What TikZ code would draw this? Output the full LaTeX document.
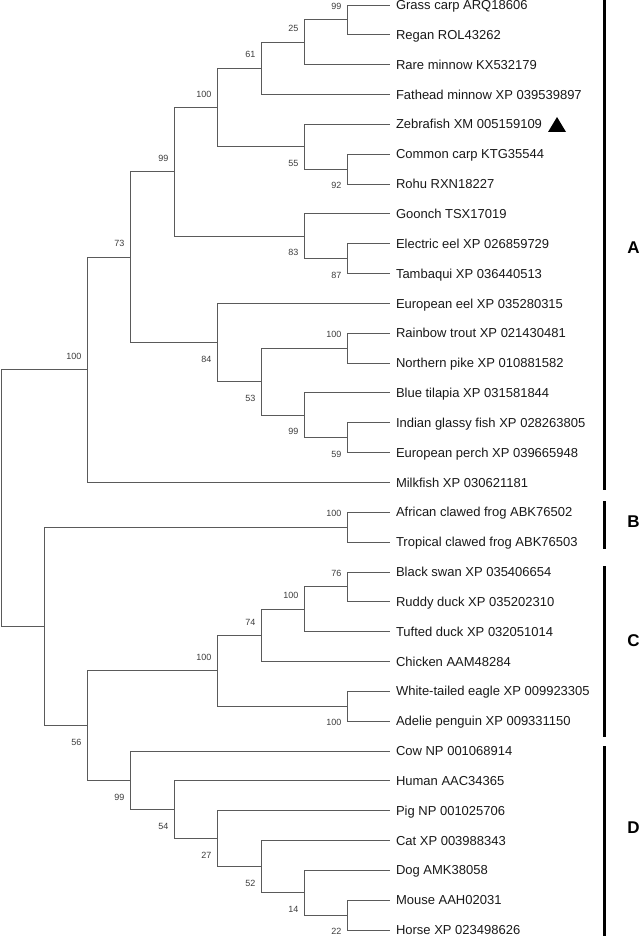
\documentclass[tikz,border=0pt]{standalone}
\usepackage{fontspec}
\setmainfont{Liberation Sans}
\usepackage{tikz}
\definecolor{BranchGrau}{RGB}{90,90,90}
\definecolor{LabelGrau}{RGB}{60,60,60}

\begin{document}
\begin{tikzpicture}[x=1pt, y=-1pt,
    branch/.style={draw=BranchGrau, line width=0.9pt},
    leaf/.style={anchor=west, inner xsep=6pt, inner ysep=1pt, outer sep=0pt, text height=9.2pt, text depth=0pt, font=\fontsize{13}{15}\selectfont, text=black!90},
    bootlabel/.style={anchor=east, inner sep=1pt, xshift=-4.5pt, font=\fontsize{9}{10}\selectfont, text=LabelGrau},
    bootup/.style={bootlabel, yshift=13.5pt},
    bootdown/.style={bootlabel, yshift=-16.5pt},
    cladebar/.style={draw=black, line width=3pt},
    cladename/.style={font=\fontsize{17}{20}\selectfont\bfseries}]
    \useasboundingbox (0,0) rectangle (641,936);

    % leaves
    \foreach \n/\t [count=\i from 0] in {grass/Grass carp ARQ18606, regan/Regan ROL43262,
        rare/Rare minnow KX532179, fathead/Fathead minnow XP 039539897,
        zebra/Zebrafish XM 005159109, common/Common carp KTG35544, rohu/Rohu RXN18227,
        goonch/Goonch TSX17019, eel/Electric eel XP 026859729, tamb/Tambaqui XP 036440513,
        eureel/European eel XP 035280315, trout/Rainbow trout XP 021430481,
        pike/Northern pike XP 010881582, tilapia/Blue tilapia XP 031581844,
        glassy/Indian glassy fish XP 028263805, perch/European perch XP 039665948,
        milk/Milkfish XP 030621181, african/African clawed frog ABK76502,
        tropical/Tropical clawed frog ABK76503, swan/Black swan XP 035406654,
        ruddy/Ruddy duck XP 035202310, tufted/Tufted duck XP 032051014,
        chicken/Chicken AAM48284, eagle/White-tailed eagle XP 009923305,
        penguin/Adelie penguin XP 009331150, cow/Cow NP 001068914, human/Human AAC34365,
        pig/Pig NP 001025706, cat/Cat XP 003988343, dog/Dog AMK38058,
        mouse/Mouse AAH02031, horse/Horse XP 023498626}
        \node[leaf] (\n) at (390, {5+29.84*\i}) {\t};

    % inner nodes
    \coordinate (cGrass)   at (347, 19.9);
    \coordinate (cRare)    at (304, 42.3);
    \coordinate (cFathead) at (261, 68.4);
    \coordinate (cRohu)    at (347,169.1);
    \coordinate (cZebra)   at (304,146.7);
    \coordinate (cCyprin)  at (217,107.6);
    \coordinate (cEel)     at (347,258.6);
    \coordinate (cGoonch)  at (304,236.3);
    \coordinate (cOstario) at (174,171.9);
    \coordinate (cTrout)   at (347,348.2);
    \coordinate (cPerch)   at (347,437.7);
    \coordinate (cTilapia) at (304,415.3);
    \coordinate (cEuteleo) at (261,381.7);
    \coordinate (cEurEel)  at (217,342.6);
    \coordinate (cTeleo)   at (130,257.2);
    \coordinate (cFish)    at ( 87,369.9);
    \coordinate (cFrog)    at (347,527.2);
    \coordinate (cSwan)    at (347,586.9);
    \coordinate (cDuck)    at (304,609.3);
    \coordinate (cChicken) at (261,635.4);
    \coordinate (cEagle)   at (347,706.2);
    \coordinate (cBird)    at (217,670.8);
    \coordinate (cHorse)   at (347,915.1);
    \coordinate (cDog)     at (304,892.7);
    \coordinate (cCat)     at (261,866.6);
    \coordinate (cPig)     at (217,838.6);
    \coordinate (cHuman)   at (174,809.8);
    \coordinate (cMammal)  at (130,780.4);
    \coordinate (cAmniote) at ( 87,725.6);
    \coordinate (cTetra)   at ( 44,626.4);
    \coordinate (root)     at (  1,498.1);

    % branches
    \draw[branch] (cGrass) |- (grass.west)   (cGrass) |- (regan.west)
                  (cRare) |- (cGrass)        (cRare) |- (rare.west)
                  (cFathead) |- (cRare)      (cFathead) |- (fathead.west)
                  (cRohu) |- (common.west)   (cRohu) |- (rohu.west)
                  (cZebra) |- (zebra.west)   (cZebra) |- (cRohu)
                  (cCyprin) |- (cFathead)    (cCyprin) |- (cZebra)
                  (cEel) |- (eel.west)       (cEel) |- (tamb.west)
                  (cGoonch) |- (goonch.west) (cGoonch) |- (cEel)
                  (cOstario) |- (cCyprin)    (cOstario) |- (cGoonch)
                  (cTrout) |- (trout.west)   (cTrout) |- (pike.west)
                  (cPerch) |- (glassy.west)  (cPerch) |- (perch.west)
                  (cTilapia) |- (tilapia.west) (cTilapia) |- (cPerch)
                  (cEuteleo) |- (cTrout)     (cEuteleo) |- (cTilapia)
                  (cEurEel) |- (eureel.west) (cEurEel) |- (cEuteleo)
                  (cTeleo) |- (cOstario)     (cTeleo) |- (cEurEel)
                  (cFish) |- (cTeleo)        (cFish) |- (milk.west)
                  (cFrog) |- (african.west)  (cFrog) |- (tropical.west)
                  (cSwan) |- (swan.west)     (cSwan) |- (ruddy.west)
                  (cDuck) |- (cSwan)         (cDuck) |- (tufted.west)
                  (cChicken) |- (cDuck)      (cChicken) |- (chicken.west)
                  (cEagle) |- (eagle.west)   (cEagle) |- (penguin.west)
                  (cBird) |- (cChicken)      (cBird) |- (cEagle)
                  (cHorse) |- (mouse.west)   (cHorse) |- (horse.west)
                  (cDog) |- (dog.west)       (cDog) |- (cHorse)
                  (cCat) |- (cat.west)       (cCat) |- (cDog)
                  (cPig) |- (pig.west)       (cPig) |- (cCat)
                  (cHuman) |- (human.west)   (cHuman) |- (cPig)
                  (cMammal) |- (cow.west)    (cMammal) |- (cHuman)
                  (cAmniote) |- (cBird)      (cAmniote) |- (cMammal)
                  (cTetra) |- (cFrog)        (cTetra) |- (cAmniote)
                  (root) |- (cFish)          (root) |- (cTetra);

    % bootstrap values
    \node[bootup]   (bGrass)   at (cGrass)   {99};
    \node[bootup]   (bRare)    at (cRare)    {25};
    \node[bootup]   (bFathead) at (cFathead) {61};
    \node[bootdown] (bRohu)    at (cRohu)    {92};
    \node[bootdown] (bZebra)   at (cZebra)   {55};
    \node[bootup]   (bCyprin)  at (cCyprin)  {100};
    \node[bootdown] (bEel)     at (cEel)     {87};
    \node[bootdown] (bGoonch)  at (cGoonch)  {83};
    \node[bootup]   (bOstario) at (cOstario) {99};
    \node[bootup]   (bTrout)   at (cTrout)   {100};
    \node[bootdown] (bPerch)   at (cPerch)   {59};
    \node[bootdown] (bTilapia) at (cTilapia) {99};
    \node[bootdown] (bEuteleo) at (cEuteleo) {53};
    \node[bootdown] (bEurEel)  at (cEurEel)  {84};
    \node[bootup]   (bTeleo)   at (cTeleo)   {73};
    \node[bootup]   (bFish)    at (cFish)    {100};
    \node[bootup]   (bFrog)    at (cFrog)    {100};
    \node[bootup]   (bSwan)    at (cSwan)    {76};
    \node[bootup]   (bDuck)    at (cDuck)    {100};
    \node[bootup]   (bChicken) at (cChicken) {74};
    \node[bootdown] (bEagle)   at (cEagle)   {100};
    \node[bootup]   (bBird)    at (cBird)    {100};
    \node[bootdown] (bHorse)   at (cHorse)   {22};
    \node[bootdown] (bDog)     at (cDog)     {14};
    \node[bootdown] (bCat)     at (cCat)     {52};
    \node[bootdown] (bPig)     at (cPig)     {27};
    \node[bootdown] (bHuman)   at (cHuman)   {54};
    \node[bootdown] (bMammal)  at (cMammal)  {99};
    \node[bootdown] (bAmniote) at (cAmniote) {56};

    % marker
    \fill[black] (548,132) -- (566,132) -- (557,117) -- cycle;

    % clades
    \draw[cladebar] (604,0)   -- (604,490);
    \draw[cladebar] (604,501) -- (604,549);
    \draw[cladebar] (604,566) -- (604,737);
    \draw[cladebar] (604,746) -- (604,936);
    \node[cladename] (cladeA) at (633.5,248) {A};
    \node[cladename] (cladeB) at (633.5,522) {B};
    \node[cladename] (cladeC) at (633.5,641) {C};
    \node[cladename] (cladeD) at (633.5,828) {D};
\end{tikzpicture}
\end{document}
